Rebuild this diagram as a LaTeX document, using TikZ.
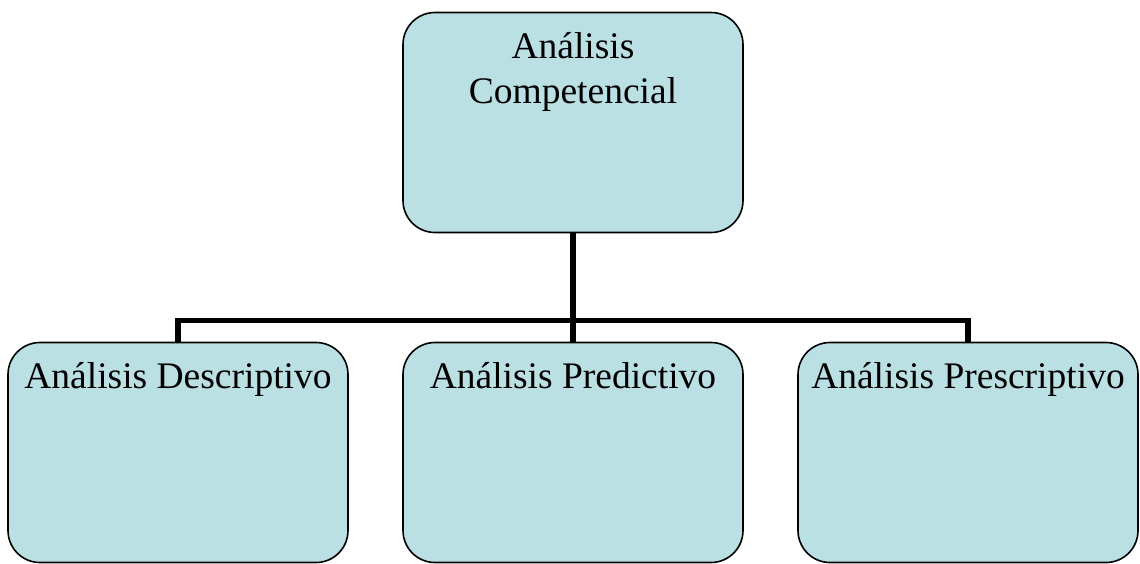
\documentclass[tikz,border=0pt]{standalone}
\usepackage{fontspec}
\setmainfont{Liberation Serif}
\definecolor{celeste}{RGB}{186,224,227}
\newcommand{\textocaja}[1]{\parbox[c][220pt][t]{340pt}{\centering\fontsize{37.5}{45}\selectfont\rule{0pt}{46pt}#1}}

\begin{document}
\begin{tikzpicture}[x=1pt,y=-1pt,
    caja/.style={draw, fill=celeste, line width=1.6pt, rounded corners=32pt, inner sep=0pt},
    level distance=330pt, sibling distance=395pt,
    edge from parent/.style={draw, line width=5.5pt},
    edge from parent path={(\tikzparentnode.south) -- ++(0,-87pt) -| (\tikzchildnode.north)}]
    \useasboundingbox (0,0) rectangle (1140,563);
    \node[caja] (comp) at (573,122.5) {\textocaja{Análisis\\Competencial}}
      child { node[caja] (desc) {\textocaja{Análisis Descriptivo}} }
      child { node[caja] (pred) {\textocaja{Análisis Predictivo}} }
      child { node[caja] (pres) {\textocaja{Análisis Prescriptivo}} };
  \end{tikzpicture}
\end{document}
